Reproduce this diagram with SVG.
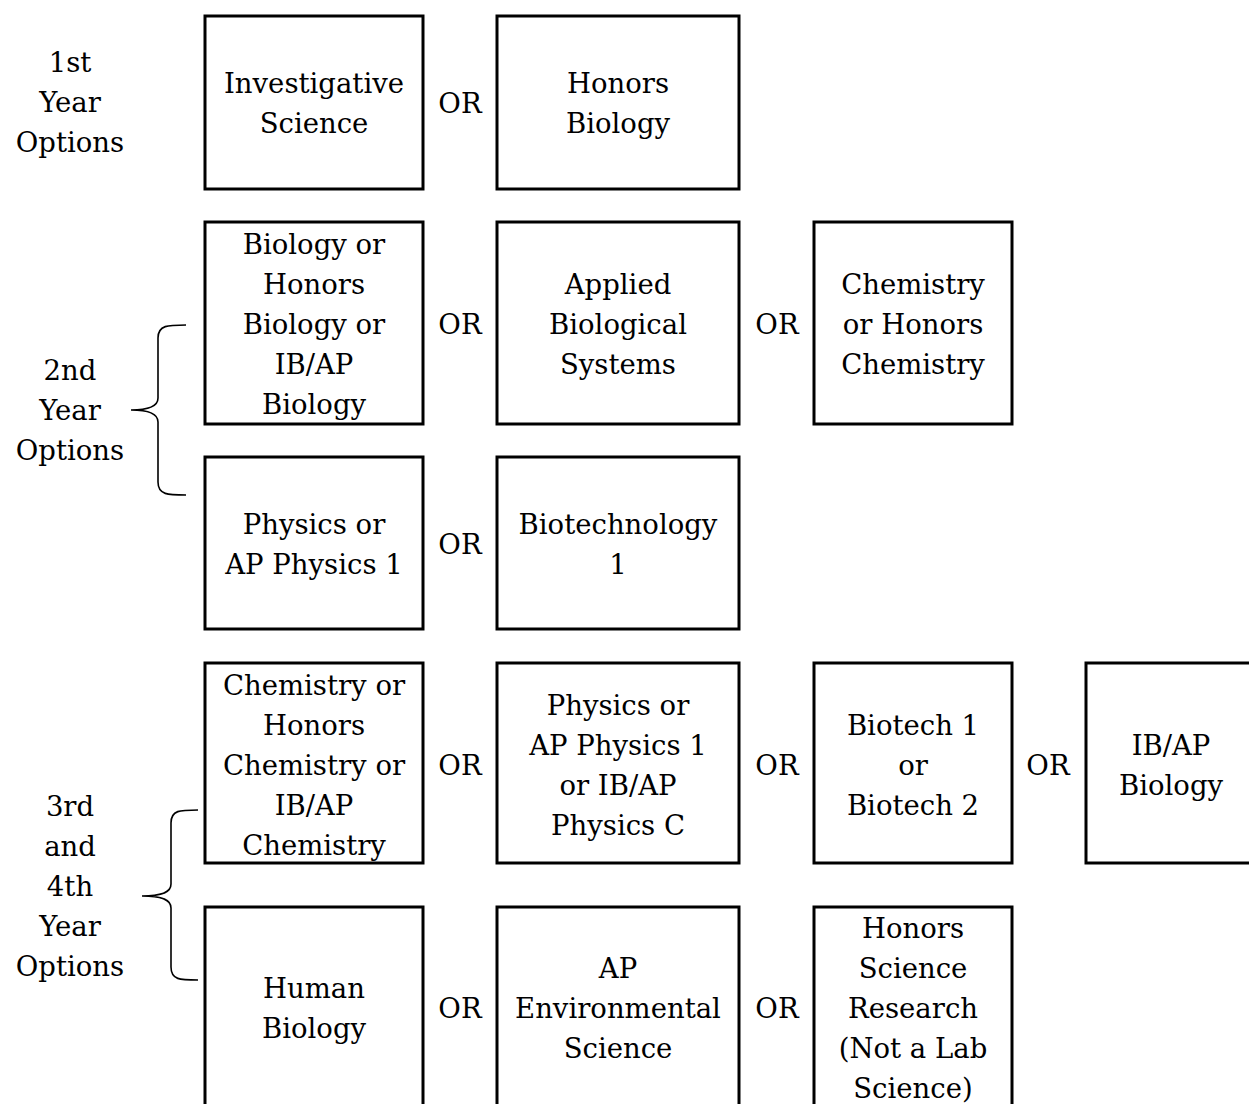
<svg xmlns="http://www.w3.org/2000/svg" width="1249" height="1104" viewBox="0 0 1249 1104">
<style>
rect.box{fill:#fff;stroke:#000;stroke-width:3}
text{font-family:"DejaVu Serif","Liberation Serif",serif;font-size:27.5px;fill:#000;text-anchor:middle}
.brace{fill:none;stroke:#000;stroke-width:1.6}
</style>
<rect width="1249" height="1104" fill="#fff"/>
<g id="labels">
<text x="70" y="72">1st</text><text x="70" y="112">Year</text><text x="70" y="152">Options</text>
<text x="70" y="380">2nd</text><text x="70" y="420">Year</text><text x="70" y="460">Options</text>
<text x="70" y="816">3rd</text><text x="70" y="856">and</text><text x="70" y="896">4th</text><text x="70" y="936">Year</text><text x="70" y="976">Options</text>
</g>
<g id="connectors">
<path class="brace" d="M186,325 C168,325 158,325 158,338 L158,398 C158,406 150,410 131,410 C150,410 158,414 158,422 L158,482 C158,495 168,495 186,495"/>
<path class="brace" d="M198,810 C180,810 171,810 171,823 L171,884 C171,892 163,896 142,896 C163,896 171,900 171,908 L171,967 C171,980 180,980 198,980"/>
<text x="460" y="113">OR</text>
<text x="460" y="334">OR</text><text x="777" y="334">OR</text>
<text x="460" y="554">OR</text>
<text x="460" y="775">OR</text><text x="777" y="775">OR</text><text x="1048" y="775">OR</text>
<text x="460" y="1018">OR</text><text x="777" y="1018">OR</text>
</g>
<g id="n1"><rect class="box" x="205" y="16" width="218" height="173"/><text x="314" y="93">Investigative</text><text x="314" y="133">Science</text></g>
<g id="n2"><rect class="box" x="497" y="16" width="242" height="173"/><text x="618" y="93">Honors</text><text x="618" y="133">Biology</text></g>
<g id="n3"><rect class="box" x="205" y="222" width="218" height="202"/><text x="314" y="254">Biology or</text><text x="314" y="294">Honors</text><text x="314" y="334">Biology or</text><text x="314" y="374">IB/AP</text><text x="314" y="414">Biology</text></g>
<g id="n4"><rect class="box" x="497" y="222" width="242" height="202"/><text x="618" y="294">Applied</text><text x="618" y="334">Biological</text><text x="618" y="374">Systems</text></g>
<g id="n5"><rect class="box" x="814" y="222" width="198" height="202"/><text x="913" y="294">Chemistry</text><text x="913" y="334">or Honors</text><text x="913" y="374">Chemistry</text></g>
<g id="n6"><rect class="box" x="205" y="457" width="218" height="172"/><text x="314" y="534">Physics or</text><text x="314" y="574">AP Physics 1</text></g>
<g id="n7"><rect class="box" x="497" y="457" width="242" height="172"/><text x="618" y="534">Biotechnology</text><text x="618" y="574">1</text></g>
<g id="n8"><rect class="box" x="205" y="663" width="218" height="200"/><text x="314" y="695">Chemistry or</text><text x="314" y="735">Honors</text><text x="314" y="775">Chemistry or</text><text x="314" y="815">IB/AP</text><text x="314" y="855">Chemistry</text></g>
<g id="n9"><rect class="box" x="497" y="663" width="242" height="200"/><text x="618" y="715">Physics or</text><text x="618" y="755">AP Physics 1</text><text x="618" y="795">or IB/AP</text><text x="618" y="835">Physics C</text></g>
<g id="n10"><rect class="box" x="814" y="663" width="198" height="200"/><text x="913" y="735">Biotech 1</text><text x="913" y="775">or</text><text x="913" y="815">Biotech 2</text></g>
<g id="n11"><rect class="box" x="1086" y="663" width="200" height="200"/><text x="1171" y="755">IB/AP</text><text x="1171" y="795">Biology</text></g>
<g id="n12"><rect class="box" x="205" y="907" width="218" height="220"/><text x="314" y="998">Human</text><text x="314" y="1038">Biology</text></g>
<g id="n13"><rect class="box" x="497" y="907" width="242" height="220"/><text x="618" y="978">AP</text><text x="618" y="1018">Environmental</text><text x="618" y="1058">Science</text></g>
<g id="n14"><rect class="box" x="814" y="907" width="198" height="220"/><text x="913" y="938">Honors</text><text x="913" y="978">Science</text><text x="913" y="1018">Research</text><text x="913" y="1058">(Not a Lab</text><text x="913" y="1098">Science)</text></g>
</svg>
